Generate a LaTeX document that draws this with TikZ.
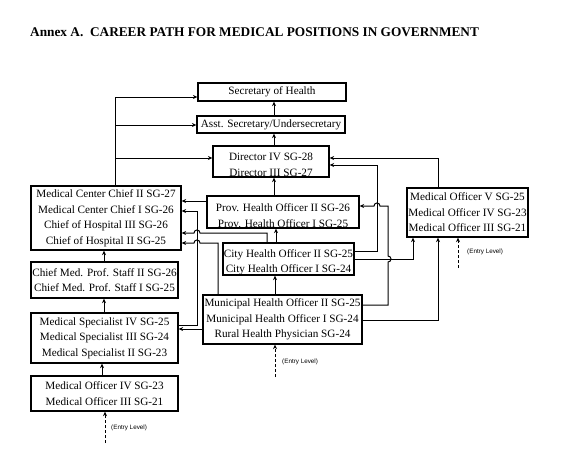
\documentclass[tikz,border=0pt]{standalone}
\usepackage{fontspec}
\setmainfont{Liberation Serif}
\setsansfont{Liberation Sans}
\usetikzlibrary{arrows.meta}
\newcommand\lowtext[1]{\raisebox{-3.5pt}[\height][\depth]{#1}}
\begin{document}
\begin{tikzpicture}[x=1pt,y=-1pt,
  box/.style={draw, line width=1.3pt, inner sep=0pt, align=center,
    font=\fontsize{11.2}{15.5}\selectfont},
  arr/.style={line width=1pt, -{Stealth[length=4.5pt,width=4pt]}},
  entry/.style={line width=1pt, dashed, dash pattern=on 3pt off 2pt, -{Stealth[length=4.5pt,width=4pt]}},
  entrylbl/.style={anchor=west, inner sep=0pt, font=\sffamily\fontsize{6.3}{7}\selectfont},
  ttl/.style={anchor=base west, inner sep=0pt, font=\bfseries\fontsize{13.3}{15}\selectfont}]
\fill[white] (0,0) rectangle (577,450);
\useasboundingbox (0,0) rectangle (577,450);

\node[ttl] (title) at (30,36) {Annex A.\ \ CAREER PATH FOR MEDICAL POSITIONS IN GOVERNMENT};

% boxes
\node[box, minimum width=148pt, minimum height=18pt] (sec) at (272,92) {Secretary of Health};
\node[box, minimum width=148pt, minimum height=17pt] (asst) at (271,124.5) {Asst. Secretary/Undersecretary};
\node[box, minimum width=116pt, minimum height=31pt] (dir) at (271,161.5) {\lowtext{Director IV SG-28}\\\lowtext{Director III SG-27}};
\node[box, minimum width=152pt, minimum height=32pt] (prov) at (283,212) {\lowtext{Prov. Health Officer II SG-26}\\\lowtext{Prov. Health Officer I SG-25}};
\node[box, minimum width=131pt, minimum height=32pt] (city) at (288.5,259) {\lowtext{City Health Officer II SG-25}\\\lowtext{City Health Officer I SG-24}};
\node[box, minimum width=159pt, minimum height=49pt] (mun) at (282.5,319.5) {Municipal Health Officer II SG-25\\Municipal Health Officer I SG-24\\Rural Health Physician SG-24};
\node[box, minimum width=150pt, minimum height=64pt] (mcc) at (106,218) {Medical Center Chief II SG-27\\Medical Center Chief I SG-26\\Chief of Hospital III SG-26\\Chief of Hospital II SG-25};
\node[box, minimum width=147pt, minimum height=36pt] (cmps) at (104.5,280) {Chief Med. Prof. Staff II SG-26\\Chief Med. Prof. Staff I SG-25};
\node[box, minimum width=147pt, minimum height=50pt] (ms) at (104.5,338) {Medical Specialist IV SG-25\\Medical Specialist III SG-24\\Medical Specialist II SG-23};
\node[box, minimum width=147pt, minimum height=35pt] (mo) at (104.5,393.5) {Medical Officer IV SG-23\\Medical Officer III SG-21};
\node[box, minimum width=121pt, minimum height=49pt] (mov) at (467.5,212.5) {Medical Officer V SG-25\\Medical Officer IV SG-23\\Medical Officer III SG-21};

% entry levels
\coordinate (e1) at (105,443);
\coordinate (e2) at (275,377);
\coordinate (e3) at (458,268);
\draw[entry] (e1) -- (mo.south -| e1);
\draw[entry] (e2) -- (mun.south -| e2);
\draw[entry] (e3) -- (mov.south -| e3);
\node[entrylbl] (l1) at (111,428) {(Entry Level)};
\node[entrylbl] (l2) at (282,362) {(Entry Level)};
\node[entrylbl] (l3) at (467,252) {(Entry Level)};

% central column
\draw[arr] (asst.north -| 274,0) -- (sec.south -| 274,0);
\draw[arr] (dir.north -| 274,0) -- (asst.south -| 274,0);
\draw[arr] (prov.north -| 274,0) -- (dir.south -| 274,0);
\draw[arr] (city.north -| 276,0) -- (prov.south -| 276,0);
\draw[arr] (mun.north -| 275,0) -- (city.south -| 275,0);

% left column
\draw[arr] (mo.north -| 102,0) -- (ms.south -| 102,0);
\draw[arr] (ms.north -| 104,0) -- (cmps.south -| 104,0);
\draw[arr] (cmps.north -| 104,0) -- (mcc.south -| 104,0);

% left trunk
\coordinate (ja) at (115,125);
\coordinate (jb) at (115,158);
\draw[arr] (mcc.north -| 115,0) -- (115,97) -- (sec.west |- 0,97);
\draw[arr] (ja) -- (asst.west |- ja);
\draw[arr] (jb) -- (dir.west |- jb);

% into medical center chief
\draw[arr] (prov.west |- 0,201) -- (mcc.east |- 0,201);
\draw[arr] (ms.east |- 0,325) -- (197,325) -- (197,211) -- (mcc.east |- 0,211);
\draw[arr] (city.north -| 267,0) -- (267,233) -- (200,233) .. controls (200,229) and (194,229) .. (194,233) -- (mcc.east |- 0,233);
\draw[arr] (mun.north -| 218,0) -- (218,243) -- (200,243) .. controls (200,239) and (194,239) .. (194,243) -- (mcc.east |- 0,243);
\draw[arr] (mun.west |- 0,329) -- (ms.east |- 0,329);

% right side
\draw[arr] (mov.north -| 438,0) -- (438,158) -- (dir.east |- 0,158);
\draw[arr] (city.east |- 0,251) -- (377,251) -- (377,165) -- (dir.east |- 0,165);
\draw[arr] (mun.east |- 0,305) -- (388,305) -- (388,262) .. controls (392,262) and (392,256) .. (388,256) -- (388,206) -- (380,206) .. controls (380,202) and (374,202) .. (374,206) -- (prov.east |- 0,206);
\draw[arr] (city.east |- 0,259) -- (413,259) -- (mov.south -| 413,0);
\draw[arr] (mun.east |- 0,320) -- (438,320) -- (mov.south -| 438,0);
\end{tikzpicture}
\end{document}
